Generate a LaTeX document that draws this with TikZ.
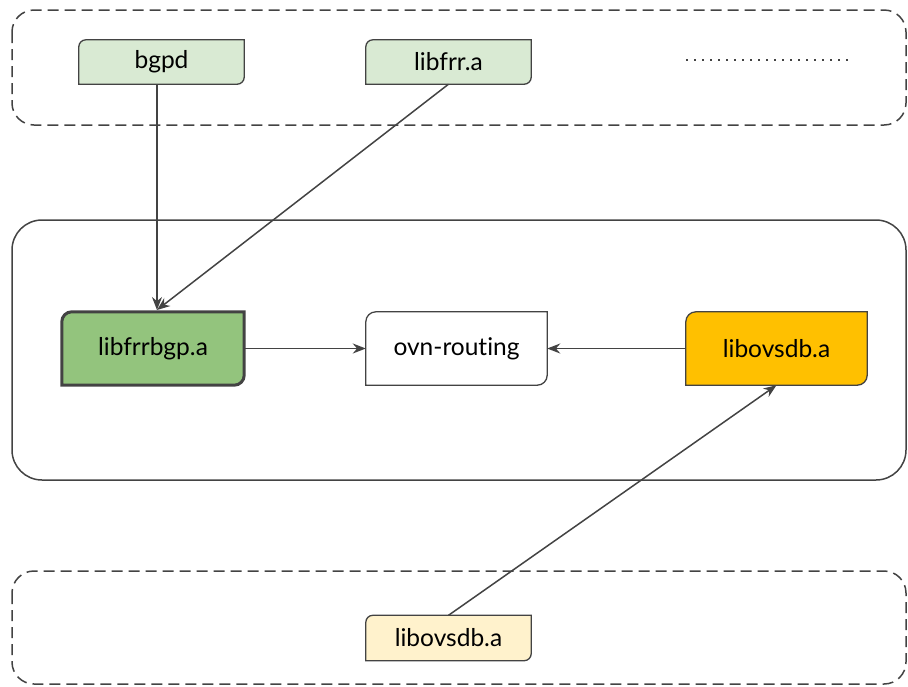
\documentclass[tikz,border=0pt]{standalone}
\usepackage{fontspec}
\setmainfont[Ligatures={NoCommon,NoContextual}]{Lato}
\usetikzlibrary{arrows.meta,backgrounds}
\definecolor{edge}{HTML}{434343}
\definecolor{lgreen}{HTML}{D9EAD3}
\definecolor{mgreen}{HTML}{93C47D}
\definecolor{orangey}{HTML}{FFC000}
\definecolor{lyellow}{HTML}{FFF2CC}
\newcommand\cutbox[3]{%
  \begin{scope}[on background layer]
  \draw[#2] (#1.south west) -- ([yshift=-#3]#1.north west) arc[start angle=180,end angle=90,radius=#3] -- (#1.north east) -- ([yshift=#3]#1.south east) arc[start angle=0,end angle=-90,radius=#3] -- cycle;
  \end{scope}}
\tikzset{
  lbl/.style={inner sep=0pt, font=\fontsize{24.5}{28}\selectfont, text=black},
  group/.style={draw=edge, line width=1.5pt, dash pattern=on 11pt off 6pt, rounded corners=22pt},
  frame/.style={draw=edge, line width=1.5pt, rounded corners=30pt},
  conn/.style={draw=edge, line width=1.5pt, -{Stealth[length=13pt,width=10pt]}},
}
\begin{document}
\begin{tikzpicture}[x=1pt,y=-1pt]
\useasboundingbox (0,0) rectangle (908,686);
\draw[group] (12,10) rectangle (906,125);
\draw[frame] (12,220) rectangle (906,480);
\draw[group] (12,571) rectangle (906,684);
\draw[edge, line width=1.3pt, dash pattern=on 1.5pt off 6.5pt] (686,60) -- (850,60);

\node[lbl, minimum width=165pt, minimum height=44pt] (bgpd) at (161.5,62) {bgpd};
\node[lbl, minimum width=165pt, minimum height=44pt] (libfrr) at (448.5,62) {libfrr.a};
\node[lbl, minimum width=182pt, minimum height=73pt] (libfrrbgp) at (153,348.5) {libfrrbgp.a};
\node[lbl, minimum width=181pt, minimum height=73pt] (ovn) at (456.5,348.5) {ovn-routing};
\node[lbl, minimum width=181pt, minimum height=73pt] (libovs) at (776.5,348.5) {libovsdb.a};
\node[lbl, minimum width=165pt, minimum height=45pt] (libovsb) at (448.5,638) {libovsdb.a};

\cutbox{bgpd}{draw=edge, line width=1.3pt, fill=lgreen}{7pt}
\cutbox{libfrr}{draw=edge, line width=1.3pt, fill=lgreen}{7pt}
\cutbox{libfrrbgp}{draw=edge, line width=3pt, fill=mgreen}{10pt}
\cutbox{ovn}{draw=edge, line width=1.3pt, fill=white}{10pt}
\cutbox{libovs}{draw=edge, line width=1.3pt, fill=orangey}{10pt}
\cutbox{libovsb}{draw=edge, line width=1.3pt, fill=lyellow}{7pt}

\coordinate (tipA) at (157,310);
\draw[conn] (bgpd.south -| tipA) -- (tipA);
\draw[conn] (libfrr.south) -- (tipA);
\draw[conn] (libfrrbgp.east) -- (ovn.west);
\draw[conn] (libovs.west) -- (ovn.east);
\draw[conn] (libovsb.north) -- (libovs.south);
\end{tikzpicture}
\end{document}
